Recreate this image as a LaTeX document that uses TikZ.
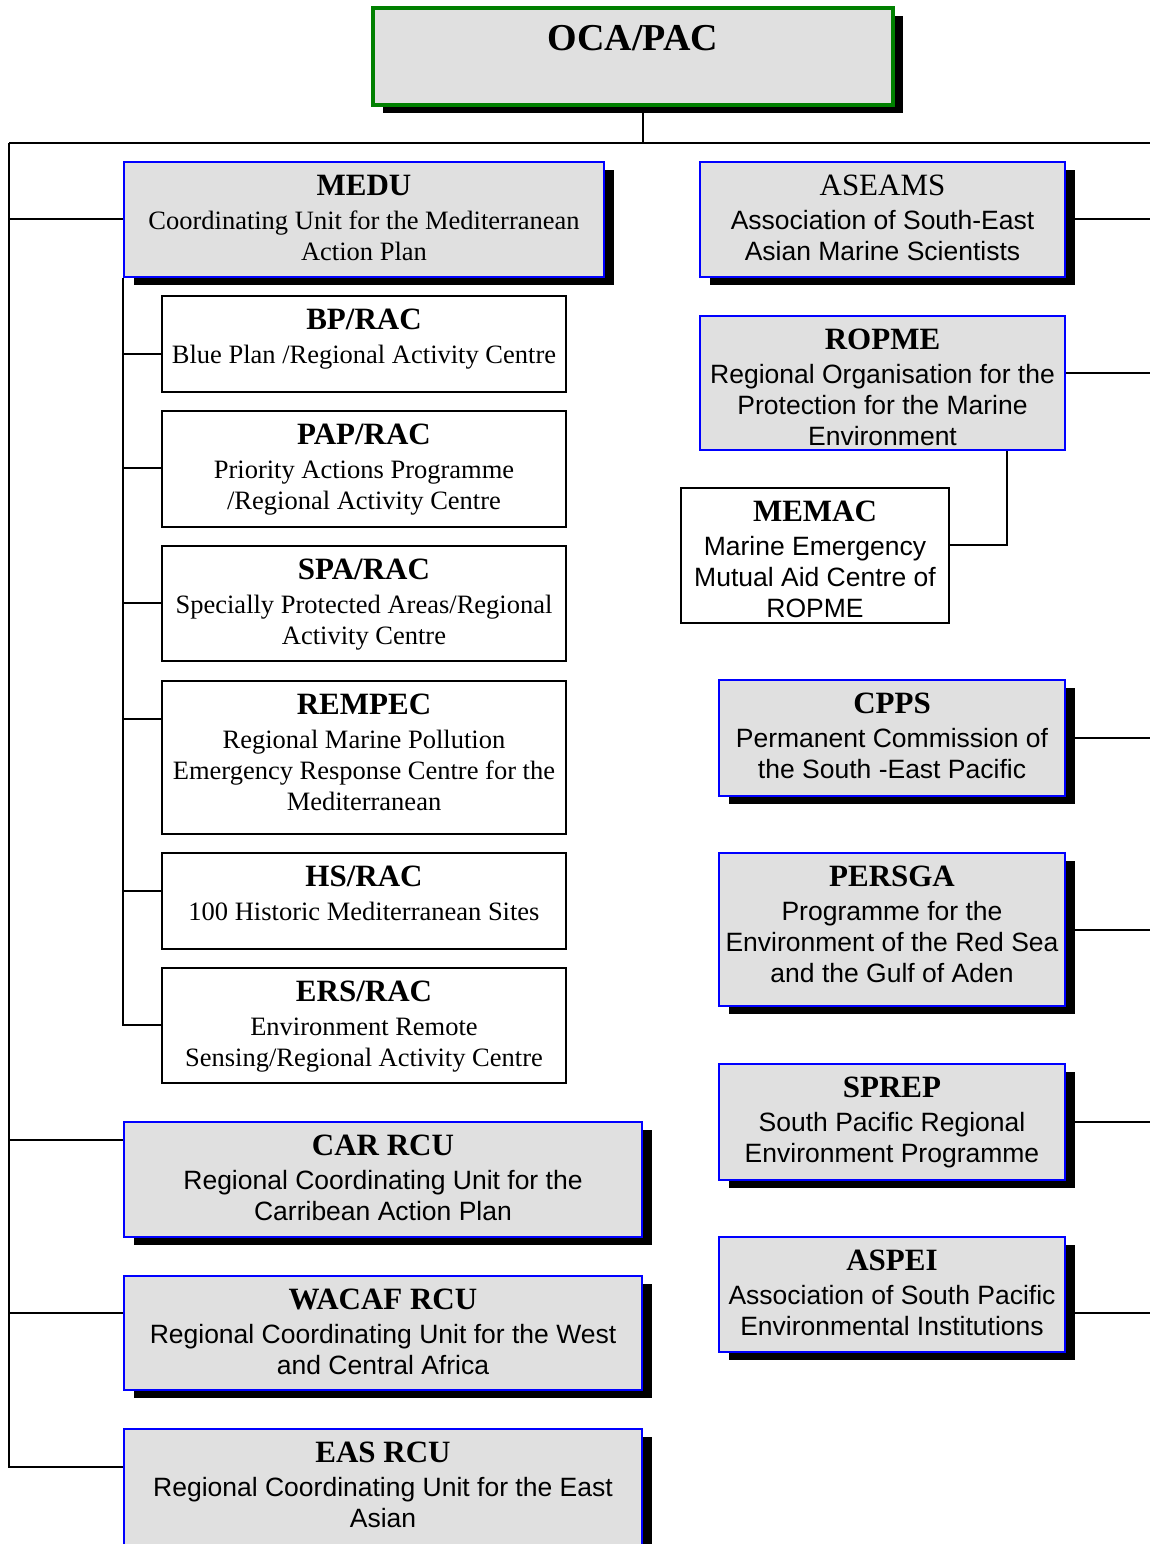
\documentclass[tikz,border=0pt]{standalone}
\usepackage{fontspec}
\setmainfont{Liberation Serif}
\newfontfamily\arial{Liberation Sans}
\usetikzlibrary{shadows}
\definecolor{boxgrey}{RGB}{224,224,224}
\definecolor{ocagreen}{RGB}{0,128,0}
\newcommand\hd[1]{{\rmfamily\bfseries\fontsize{15.5}{15.5}\selectfont #1}\\[1.5pt]}

\begin{document}
\begin{tikzpicture}[x=0.5pt,y=-0.5pt,
    link/.style={draw=black,line width=0.75pt},
    org/.style={draw=blue,line width=1pt,fill=boxgrey,inner sep=0pt,align=center,
        font=\arial\fontsize{13.25}{15.5}\selectfont},
    orgsh/.style={org,drop shadow={shadow xshift=5pt,shadow yshift=-4pt,fill=black,opacity=1}},
    one/.style={text height=33.75pt},
    two/.style={text height=49.25pt},
    three/.style={text height=64.75pt}]
    \tikzstyle{centre}=[draw=black,line width=0.75pt,fill=white,inner sep=0pt,align=center,
        minimum width=202pt,font=\fontsize{13.25}{15.5}\selectfont]

    \useasboundingbox (0,0) rectangle (1150,1544);

    % top
    \node[orgsh,draw=ocagreen,line width=2pt,minimum width=260pt,
        text height=21pt,text depth=27.5pt,font=\bfseries\fontsize{19}{19}\selectfont]
        (oca) at (633,56.5) {OCA/PAC};

    % left column
    \node[orgsh,two,minimum width=240pt,text depth=8.25pt,font=\fontsize{13.25}{15.5}\selectfont]
        (medu) at (364,219.5) {\hd{MEDU}Coordinating Unit for the Mediterranean\\Action Plan};
    \node[centre,one,text depth=14.25pt] (bp) at (364,344) {\hd{BP/RAC}Blue Plan /Regional Activity Centre};
    \node[centre,two,text depth=8.75pt] (pap) at (364,469) {\hd{PAP/RAC}Priority Actions Programme\\/Regional Activity Centre};
    \node[centre,two,text depth=8.25pt] (spa) at (364,603.5) {\hd{SPA/RAC}Specially Protected Areas/Regional\\Activity Centre};
    \node[centre,three,text depth=11.75pt] (rempec) at (364,757.5) {\hd{REMPEC}Regional Marine Pollution\\Emergency Response Centre for the\\Mediterranean};
    \node[centre,one,text depth=14.25pt] (hs) at (364,901) {\hd{HS/RAC}100 Historic Mediterranean Sites};
    \node[centre,two,text depth=8.25pt] (ers) at (364,1025.5) {\hd{ERS/RAC}Environment Remote\\Sensing/Regional Activity Centre};
    \node[orgsh,two,minimum width=259pt,text depth=8.25pt] (car) at (383,1179.5)
        {\hd{CAR RCU}Regional Coordinating Unit for the\\Carribean Action Plan};
    \node[orgsh,two,minimum width=259pt,text depth=7.75pt] (wacaf) at (383,1333)
        {\hd{WACAF RCU}Regional Coordinating Unit for the West\\and Central Africa};
    \node[orgsh,two,minimum width=259pt,text depth=9.25pt] (eas) at (383,1487.5)
        {\hd{EAS RCU}Regional Coordinating Unit for the East\\Asian};

    % right column
    \node[orgsh,two,minimum width=182.5pt,text depth=8.25pt] (aseams) at (882.5,219.5)
        {{\rmfamily\fontsize{15.5}{15.5}\selectfont ASEAMS}\\[1.5pt]Association of South-East\\Asian Marine Scientists};
    \node[org,three,minimum width=182.5pt,text depth=2.25pt] (ropme) at (882.5,383)
        {\hd{ROPME}Regional Organisation for the\\Protection for the Marine\\Environment};
    \node[centre,three,minimum width=134pt,text depth=2.75pt,font=\arial\fontsize{13.25}{15.5}\selectfont]
        (memac) at (815,555.5) {\hd{MEMAC}Marine Emergency\\Mutual Aid Centre of\\ROPME};
    \node[orgsh,two,minimum width=173pt,text depth=8.75pt] (cpps) at (892,738)
        {\hd{CPPS}Permanent Commission of\\the South -East Pacific};
    \node[orgsh,three,minimum width=173pt,text depth=11.75pt] (persga) at (892,929.5)
        {\hd{PERSGA}Programme for the\\Environment of the Red Sea\\and the Gulf of Aden};
    \node[orgsh,two,minimum width=173pt,text depth=8.75pt] (sprep) at (892,1122)
        {\hd{SPREP}South Pacific Regional\\Environment Programme};
    \node[orgsh,two,minimum width=173pt,text depth=8.25pt] (aspei) at (892,1294.5)
        {\hd{ASPEI}Association of South Pacific\\Environmental Institutions};

    % connectors
    \coordinate (bus) at (643,143);
    \coordinate (lft) at (9,143);
    \coordinate (rgt) at (1152,143);
    \draw[link] (oca.south -| bus) -- (bus);
    \draw[link] (lft) -- (rgt);
    \draw[link] (lft) |- (eas.west |- 0,1467);
    \draw[link] (lft |- 0,219) -- (medu.west |- 0,219);
    \draw[link] (lft |- 0,1140) -- (car.west |- 0,1140);
    \draw[link] (lft |- 0,1313) -- (wacaf.west |- 0,1313);

    \draw[link] (medu.south west) |- (ers.west |- 0,1025);
    \draw[link] (medu.west |- 0,354) -- (bp.west |- 0,354);
    \draw[link] (medu.west |- 0,468) -- (pap.west |- 0,468);
    \draw[link] (medu.west |- 0,603) -- (spa.west |- 0,603);
    \draw[link] (medu.west |- 0,719) -- (rempec.west |- 0,719);
    \draw[link] (medu.west |- 0,891) -- (hs.west |- 0,891);

    \draw[link] (aseams.east |- 0,219) -- (rgt |- 0,219);
    \draw[link] (ropme.east |- 0,373) -- (rgt |- 0,373);
    \draw[link] (ropme.south -| 1007,0) |- (memac.east |- 0,545);
    \draw[link] (cpps.east |- 0,738) -- (rgt |- 0,738);
    \draw[link] (persga.east |- 0,930) -- (rgt |- 0,930);
    \draw[link] (sprep.east |- 0,1122) -- (rgt |- 0,1122);
    \draw[link] (aspei.east |- 0,1313) -- (rgt |- 0,1313);

\end{tikzpicture}
\end{document}
